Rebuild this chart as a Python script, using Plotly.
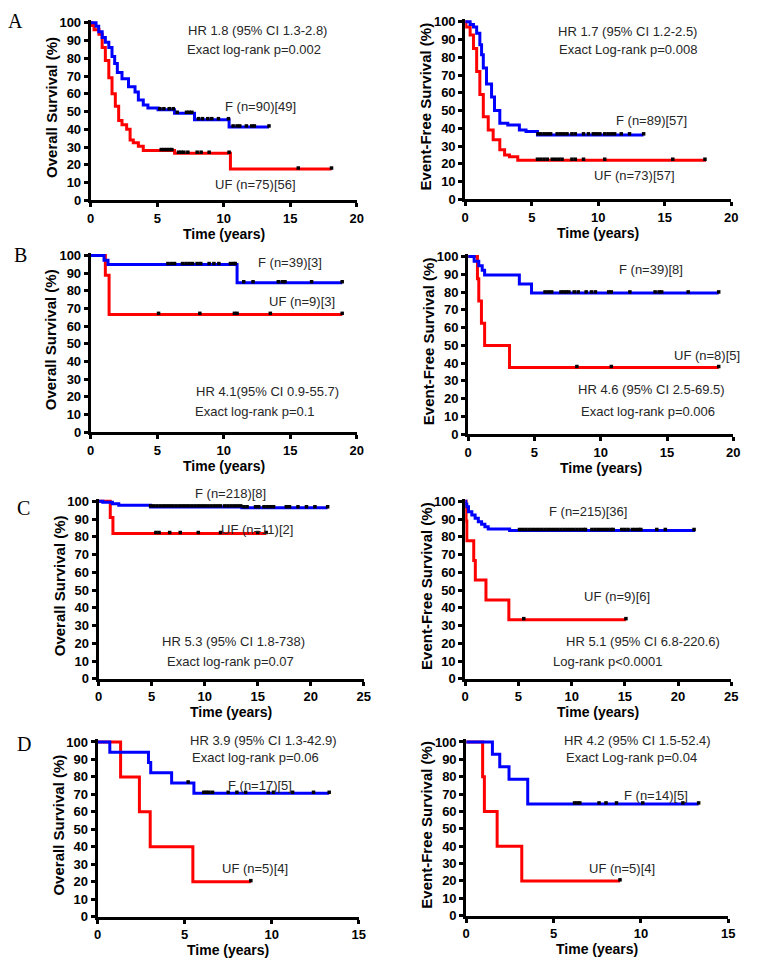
import plotly.graph_objects as go

# ---------------- DATA ----------------
# Panel A - Overall survival
a_os_f_t = [0, 0.4, 0.6, 0.86, 1.1, 1.36, 1.6, 1.8, 2.0, 2.35, 2.84, 3.33, 3.58, 3.95, 4.3, 5.06, 6.3, 7.8, 10.4, 13.4]
a_os_f_s = [100, 98, 95, 91.7, 89, 86, 81, 77, 72, 68.5, 64, 61, 56.5, 53.7, 52, 51, 49, 45.4, 41.3, 41.3]
a_os_uf_t = [0, 0.05, 0.25, 0.62, 0.86, 1.1, 1.36, 1.6, 1.85, 2.1, 2.35, 2.7, 2.96, 3.2, 3.58, 3.95, 6.3, 10.5, 18.1]
a_os_uf_s = [100, 98.5, 96, 93.5, 86, 78.7, 69, 60, 53, 45, 42.6, 40, 34, 32.4, 30.5, 28, 26.5, 17.6, 17.6]
a_os_f_cens = [5.2, 5.5, 5.9, 6.2, 6.5, 7.2, 7.4, 7.6, 8.1, 8.4, 8.8, 9.1, 9.6, 10.35, 10.7, 11.0, 11.2, 11.7, 12.1, 12.3, 13.4]
a_os_uf_cens = [5.3, 5.5, 5.7, 5.9, 6.1, 6.6, 6.8, 7.0, 7.3, 8.0, 8.3, 8.9, 10.4, 15.6, 18.1]

# Panel A - Event-free survival
a_efs_f_t = [0, 0.37, 0.62, 0.86, 1.1, 1.23, 1.36, 1.6, 1.98, 2.2, 2.6, 3.2, 4.07, 4.57, 5.43, 13.4]
a_efs_f_s = [100, 98.5, 97, 93.5, 87, 81.5, 74, 65, 57.6, 50, 42.8, 41.9, 39, 38.2, 36.3, 36.3]
a_efs_uf_t = [0, 0.05, 0.37, 0.62, 0.86, 1.1, 1.36, 1.73, 2.1, 2.6, 2.96, 3.33, 3.95, 18.1]
a_efs_uf_s = [100, 97, 92.6, 85, 72, 59, 46.5, 39, 33.6, 28, 25, 24, 22, 22]
a_efs_f_cens = [5.48, 5.68, 5.93, 6.17, 6.42, 6.91, 7.16, 7.41, 7.65, 8.02, 8.27, 8.89, 9.26, 9.63, 9.88,
                10.12, 10.49, 10.74, 10.99, 11.23, 11.73, 12.35, 13.41]
a_efs_uf_cens = [5.43, 5.68, 5.93, 6.17, 6.54, 6.79, 7.04, 7.28, 8.02, 8.27, 8.89, 10.49, 15.6, 18.02]

# Panel B - Overall survival
b_os_f_t = [0, 1.0, 1.3, 11.0, 18.9]
b_os_f_s = [100, 97.4, 94.9, 84.6, 84.6]
b_os_uf_t = [0, 1.1, 1.38, 18.9]
b_os_uf_s = [100, 88.9, 66.7, 66.7]
b_os_f_cens = [5.8, 6.05, 6.3, 6.9, 7.16, 7.4, 7.65, 8.0, 8.27, 8.9, 9.26, 9.63, 10.5, 10.74, 10.86,
               11.5, 12.2, 14.1, 14.4, 14.6, 16.6, 18.9]
b_os_uf_cens = [5.1, 8.2, 10.8, 11.0, 13.5, 18.9]

# Panel B - Event-free survival
b_efs_f_t = [0, 0.45, 0.8, 1.06, 1.24, 3.86, 4.78, 18.9]
b_efs_f_s = [100, 97.4, 94.9, 92.3, 89.7, 84.6, 79.5, 79.5]
b_efs_uf_t = [0, 0.7, 0.8, 1.0, 1.24, 3.12, 18.9]
b_efs_uf_s = [100, 87.5, 75, 62.5, 50, 37.5, 37.5]
b_efs_f_cens = [5.8, 6.05, 6.3, 7.0, 7.2, 7.4, 7.6, 8.0, 8.3, 8.9, 9.3, 9.6, 10.6, 10.8,
                12.2, 14.1, 14.4, 14.6, 16.6, 18.9]
b_efs_uf_cens = [8.2, 10.8, 18.9]

# Panel C - Overall survival
c_os_f_t = [0, 0.4, 1.3, 1.9, 4.9, 13.5, 21.6]
c_os_f_s = [100, 99.5, 98.6, 97.7, 96.8, 96.3, 96.3]
c_os_uf_t = [0, 1.1, 1.35, 15.8]
c_os_uf_s = [100, 90.9, 81.8, 81.8]
c_os_f_cens = [4.9, 5.2, 5.5, 5.8, 6.1, 6.4, 6.7, 7.0, 7.3, 7.6, 7.9, 8.2, 8.5, 8.8, 9.1, 9.4, 9.7,
               10.0, 10.3, 10.6, 10.9, 11.2, 11.5, 11.9, 12.2, 12.5, 12.8, 13.1, 13.4, 13.7, 14.0,
               14.8, 15.1, 15.6, 15.9, 16.2, 16.5, 17.7, 18.0, 18.8, 19.6, 20.4, 21.6]
c_os_uf_cens = [5.4, 5.7, 6.7, 7.7, 9.4, 11.5, 15.0, 15.8]

# Panel C - Event-free survival
c_efs_f_t = [0, 0.05, 0.15, 0.31, 0.62, 0.93, 1.23, 1.54, 1.85, 2.16, 4.17, 21.6]
c_efs_f_s = [100, 98.5, 96.9, 94.1, 92.2, 90.4, 88.5, 87, 85.7, 84.4, 83.5, 83.5]
c_efs_uf_t = [0, 0.08, 0.15, 0.8, 0.95, 1.95, 4.1, 15.1]
c_efs_uf_s = [100, 88.9, 77.8, 66.7, 55.6, 44.4, 33.3, 33.3]
c_efs_f_cens = [5.1, 5.4, 5.7, 6.0, 6.3, 6.6, 6.9, 7.2, 7.5, 7.8, 8.1, 8.4, 8.7, 9.0, 9.3, 9.6,
                9.9, 10.2, 10.5, 10.8, 11.1, 11.3, 11.9, 12.2, 12.5, 12.8, 13.1, 13.4, 13.7, 13.9,
                14.7, 15.0, 15.3, 15.7, 16.0, 16.3, 16.5, 18.0, 18.8, 21.5]
c_efs_uf_cens = [5.5, 15.1]

# Panel D - Overall survival
d_os_f_t = [0, 0.7, 2.92, 3.05, 4.25, 5.53, 13.3]
d_os_f_s = [100, 94.1, 88.2, 82.4, 76.5, 70.6, 70.6]
d_os_uf_t = [0, 1.32, 2.4, 3.02, 5.47, 8.8]
d_os_uf_s = [100, 80, 60, 40, 20, 20]
d_os_f_cens = [5.2, 6.1, 6.25, 6.4, 6.6, 7.5, 8.0, 8.5, 9.8, 10.1, 11.2, 12.4, 13.3]
d_os_uf_cens = [8.8]

# Panel D - Event-free survival
d_efs_f_t = [0, 1.5, 1.92, 2.45, 3.52, 13.3]
d_efs_f_s = [100, 92.9, 85.7, 78.6, 64.3, 64.3]
d_efs_uf_t = [0, 0.94, 1.04, 1.77, 3.18, 8.8]
d_efs_uf_s = [100, 80, 60, 40, 20, 20]
d_efs_f_cens = [6.2, 6.35, 6.5, 7.6, 8.0, 8.6, 10.1, 12.4, 13.3]
d_efs_uf_cens = [8.8]

os_title = "Overall Survival (%)"
efs_title = "Event-Free Survival (%)"
x_title = "Time (years)"
panel_letters = ["A", "B", "C", "D"]

# ---------------- LAYOUT ----------------
W, H = 759, 969
BLUE, RED = "#0000FF", "#FF0000"
FONT = "Liberation Sans, Arial, sans-serif"

panels = [
    # (x0px, x1px, y100px, y0px, xmax, ytitle, f(t,s,cens), uf(t,s,cens))
    (88, 358, 18, 198, 20, os_title, (a_os_f_t, a_os_f_s, a_os_f_cens), (a_os_uf_t, a_os_uf_s, a_os_uf_cens)),
    (468, 738, 17, 197, 20, efs_title, (a_efs_f_t, a_efs_f_s, a_efs_f_cens), (a_efs_uf_t, a_efs_uf_s, a_efs_uf_cens)),
    (88, 358, 254, 433, 20, os_title, (b_os_f_t, b_os_f_s, b_os_f_cens), (b_os_uf_t, b_os_uf_s, b_os_uf_cens)),
    (471, 740, 255, 435, 20, efs_title, (b_efs_f_t, b_efs_f_s, b_efs_f_cens), (b_efs_uf_t, b_efs_uf_s, b_efs_uf_cens)),
    (96, 365, 503, 683, 25, os_title, (c_os_f_t, c_os_f_s, c_os_f_cens), (c_os_uf_t, c_os_uf_s, c_os_uf_cens)),
    (468, 738, 503, 683, 25, efs_title, (c_efs_f_t, c_efs_f_s, c_efs_f_cens), (c_efs_uf_t, c_efs_uf_s, c_efs_uf_cens)),
    (95, 360, 747, 924, 15, os_title, (d_os_f_t, d_os_f_s, d_os_f_cens), (d_os_uf_t, d_os_uf_s, d_os_uf_cens)),
    (469, 735, 747, 923, 15, efs_title, (d_efs_f_t, d_efs_f_s, d_efs_f_cens), (d_efs_uf_t, d_efs_uf_s, d_efs_uf_cens)),
]

YTOP = 101.5


def step_at(t, ts, ss):
    v = ss[0]
    for ti, si in zip(ts, ss):
        if ti <= t:
            v = si
    return v


fig = go.Figure()
layout = dict(width=W, height=H, margin=dict(l=0, r=0, t=0, b=0),
              paper_bgcolor="white", plot_bgcolor="white", showlegend=False)
annotations = []

for i, (x0, x1, y100, y0, xmax, ytitle, fdat, ufdat) in enumerate(panels, start=1):
    suf = "" if i == 1 else str(i)
    xa, ya = "x" + suf, "y" + suf
    ytop_px = y100 - (YTOP - 100) / 100 * (y0 - y100)
    layout["xaxis" + suf] = dict(
        domain=[x0 / W, x1 / W], anchor=ya, range=[0, xmax], dtick=5, tick0=0,
        showline=True, linecolor="black", linewidth=3, ticks="outside", ticklen=4,
        tickwidth=2.5, tickcolor="black", showgrid=False, zeroline=False,
        tickfont=dict(family=FONT, size=13, color="black", weight="bold"),
    )
    layout["yaxis" + suf] = dict(
        domain=[1 - y0 / H, 1 - ytop_px / H], anchor=xa, range=[0, YTOP], dtick=10, tick0=0,
        showline=True, linecolor="black", linewidth=3, ticks="outside", ticklen=4,
        tickwidth=2.5, tickcolor="black", showgrid=False, zeroline=False,
        tickfont=dict(family=FONT, size=13, color="black", weight="bold"),
    )
    # axis titles
    annotations.append(dict(text=x_title, x=(x0 + x1) / 2 / W, y=1 - (y0 + 34) / H, xref="paper", yref="paper",
                            xanchor="center", yanchor="middle", showarrow=False,
                            font=dict(family=FONT, size=14, color="black", weight="bold")))
    annotations.append(dict(text=ytitle, x=(x0 - 40) / W, y=1 - ((y0 + y100) / 2 - 4) / H, xref="paper",
                            yref="paper", xanchor="center", yanchor="middle", showarrow=False, textangle=-90,
                            font=dict(family=FONT, size=15, color="black", weight="bold")))
    for (ts, ss, cens), col in ((ufdat, RED), (fdat, BLUE)):
        fig.add_trace(go.Scatter(x=ts, y=ss, mode="lines", line=dict(color=col, width=3, shape="hv"),
                                 xaxis=xa, yaxis=ya, hoverinfo="skip"))
    for (ts, ss, cens) in (ufdat, fdat):
        fig.add_trace(go.Scatter(x=cens, y=[step_at(c, ts, ss) + 0.6 for c in cens], mode="markers",
                                 marker=dict(symbol="square", size=3.5, color="black", line=dict(width=0)),
                                 xaxis=xa, yaxis=ya, cliponaxis=False, hoverinfo="skip"))

# ---------------- TEXT ----------------
texts = [
    ("HR 1.8 (95% CI 1.3-2.8)", 257, 26), ("Exact log-rank p=0.002", 254, 45),
    ("F (n=90)[49]", 260, 103), ("UF (n=75)[56]", 255, 182),
    ("HR 1.7 (95% CI 1.2-2.5)", 633, 27), ("Exact Log-rank p=0.008", 633, 45),
    ("F (n=89)[57]", 657, 117), ("UF (n=73)[57]", 640, 173),
    ("F (n=39)[3]", 290, 261), ("UF (n=9)[3]", 302, 301),
    ("HR 4.1(95% CI 0.9-55.7)", 267, 392), ("Exact log-rank p=0.1", 255, 412),
    ("F (n=39)[8]", 657, 268), ("UF (n=8)[5]", 713, 355),
    ("HR 4.6 (95% CI 2.5-69.5)", 657, 390), ("Exact log-rank p=0.006", 653, 412),
    ("F (n=218)[8]", 230, 495), ("UF (n=11)[2]", 257, 532),
    ("HR 5.3 (95% CI 1.8-738)", 233, 645), ("Exact log-rank p=0.07", 230, 665),
    ("F (n=215)[36]", 593, 513), ("UF (n=9)[6]", 622, 600),
    ("HR 5.1 (95% CI 6.8-220.6)", 648, 645), ("Log-rank p<0.0001", 613, 665),
    ("HR 3.9 (95% CI 1.3-42.9)", 263, 745), ("Exact log-rank p=0.06", 255, 763),
    ("F (n=17)[5]", 260, 791), ("UF (n=5)[4]", 255, 875),
    ("HR 4.2 (95% CI 1.5-52.4)", 643, 745), ("Exact Log-rank p=0.04", 637, 763),
    ("F (n=14)[5]", 662, 801), ("UF (n=5)[4]", 627, 875),
]
for txt, px, py in texts:
    annotations.append(dict(text=txt, x=px / W, y=1 - py / H, xref="paper", yref="paper",
                            xanchor="center", yanchor="middle", showarrow=False,
                            font=dict(family=FONT, size=13, color="#262626")))
for letter, px, py in zip(panel_letters, [12, 17, 20, 20], [16, 253, 510, 749]):
    annotations.append(dict(text=letter, x=px / W, y=1 - py / H, xref="paper", yref="paper",
                            xanchor="center", yanchor="middle", showarrow=False,
                            font=dict(family="Liberation Serif, Times New Roman, serif", size=20, color="black")))
layout["annotations"] = annotations

fig.update_layout(**layout)
fig.write_html("out.html", config={"displayModeBar": False},
               post_script="document.body.style.margin='0';document.body.style.padding='0';")
